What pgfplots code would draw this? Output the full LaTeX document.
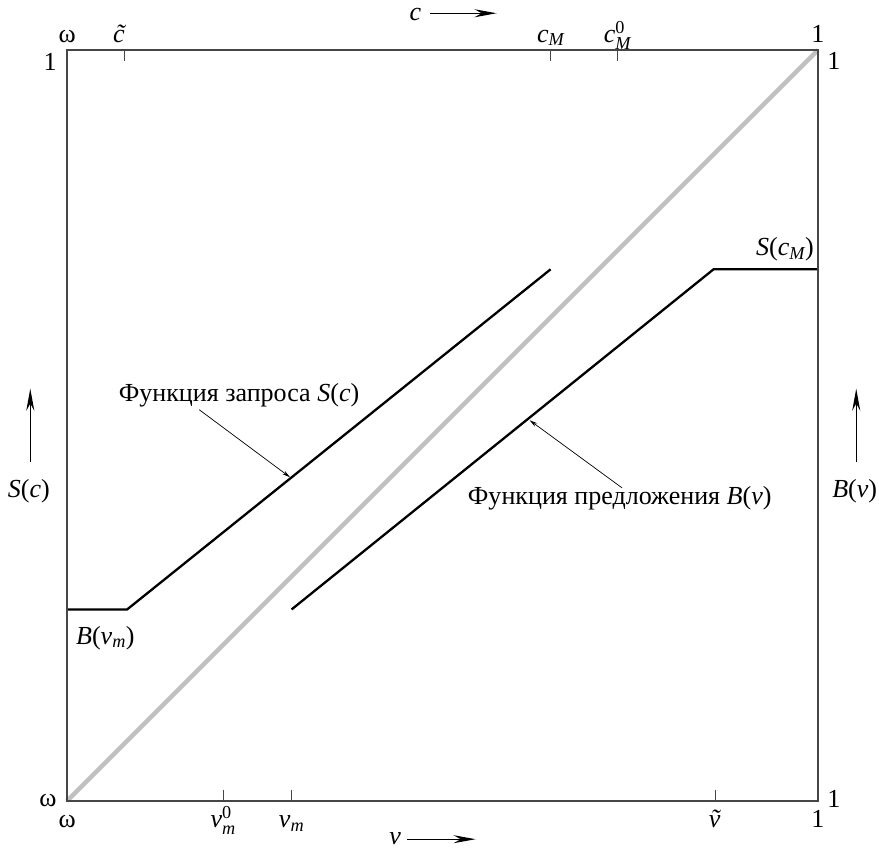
\documentclass[border=0pt]{standalone}
\usepackage{amsmath}
\usepackage{fontspec}
\setmainfont{Liberation Serif}
\usepackage{pgfplots}
\pgfplotsset{compat=1.18}
\usetikzlibrary{arrows.meta}
\definecolor{framegray}{RGB}{70,70,70}
\definecolor{diaggray}{RGB}{192,192,192}
\newcommand{\iv}[1]{\textit{#1}}
\begin{document}
\begin{tikzpicture}[x=1pt,y=1pt,font=\fontsize{26}{31}\selectfont]
\path[use as bounding box] (-67,-49) rectangle (811,800);
\begin{axis}[
  at={(0,0)}, anchor=south west,
  scale only axis, width=750pt, height=750pt,
  xmin=0, xmax=1, ymin=0, ymax=1,
  clip=false,
  axis line style={draw=framegray, line width=1.3pt},
  tick align=inside, major tick length=11pt,
  tick style={draw=framegray, line width=1.1pt},
  xtick pos=left, xticklabel pos=left,
  ytick pos=left, yticklabel pos=left,
  xtick={0,0.208,0.299,0.863,1},
  xticklabels={ω, \iv{v}$^{\textrm{0}}_{\textit{m}}$, \iv{v}$_{\textit{m}}$, \iv{\~{v}}, 1},
  ytick={0,0.984},
  yticklabels={ω, 1},
  ytick style={draw=none},
  every tick label/.append style={font=\fontsize{26}{31}\selectfont},
  xticklabel style={anchor=base, yshift=-27pt},
  yticklabel style={xshift=-7pt},
]
\addplot[diaggray, line width=4.5pt] coordinates {(0,0) (1,1)};
\addplot[black, line width=2.3pt] coordinates {(0,0.255) (0.080,0.255) (0.644,0.708)};
\addplot[black, line width=2.3pt] coordinates {(0.299,0.255) (0.861,0.708) (1,0.708)};
% annotations
\node at (axis cs:0.229,0.540) {Функция запроса \iv{S}(\iv{c})};
\draw[line width=0.7pt, -{Stealth[length=8pt,width=4pt]}] (axis cs:0.176,0.521) -- (axis cs:0.297,0.431);
\node at (axis cs:0.736,0.403) {Функция предложения \iv{B}(\iv{v})};
\draw[line width=0.7pt, -{Stealth[length=8pt,width=4pt]}] (axis cs:0.739,0.417) -- (axis cs:0.616,0.507);
\node at (axis cs:0.956,0.735) {\iv{S}(\iv{c}$_{\textit{M}}$)};
\node at (axis cs:0.051,0.217) {\iv{B}(\iv{v}$_{\textit{m}}$)};
% side labels with arrows
\node at (axis cs:-0.051,0.413) {\iv{S}(\iv{c})};
\draw[line width=1.1pt, -{Stealth[length=22pt,width=8pt]}] (axis cs:-0.049,0.451) -- (axis cs:-0.049,0.549);
\node at (axis cs:1.049,0.413) {\iv{B}(\iv{v})};
\draw[line width=1.1pt, -{Stealth[length=22pt,width=8pt]}] (axis cs:1.051,0.451) -- (axis cs:1.051,0.549);
\node at (axis cs:0.464,1.048) {\iv{c}};
\draw[line width=1.1pt, -{Stealth[length=22pt,width=8pt]}] (axis cs:0.483,1.049) -- (axis cs:0.572,1.049);
\node at (axis cs:0.437,-0.050) {\iv{v}};
\draw[line width=1.1pt, -{Stealth[length=22pt,width=8pt]}] (axis cs:0.453,-0.051) -- (axis cs:0.544,-0.051);
\end{axis}
\begin{axis}[
  at={(0,0)}, anchor=south west,
  scale only axis, width=750pt, height=750pt,
  xmin=0, xmax=1, ymin=0, ymax=1,
  axis line style={draw=framegray, line width=1.3pt},
  tick align=inside, major tick length=11pt,
  tick style={draw=framegray, line width=1.1pt},
  xtick pos=right, xticklabel pos=right,
  ytick pos=right, yticklabel pos=right,
  xtick={0,0.076,0.644,0.733,1},
  xticklabels={ω, \iv{\~{c}}, \iv{c}$_{\textit{M}}$, \iv{c}$^{\textrm{0}}_{\textit{M}}$, 1},
  ytick={0.003,0.985},
  yticklabels={1, 1},
  ytick style={draw=none},
  every tick label/.append style={font=\fontsize{26}{31}\selectfont},
  xticklabel style={anchor=base, yshift=8pt},
  yticklabel style={xshift=6pt},
]
\end{axis}
\end{tikzpicture}
\end{document}
